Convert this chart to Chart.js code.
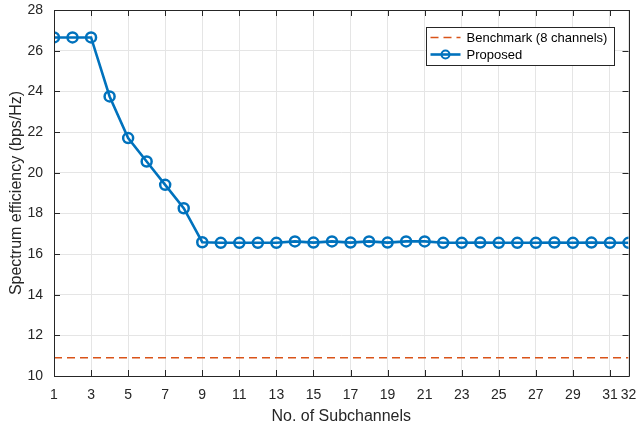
<!DOCTYPE html>
<html>
<head>
<meta charset="utf-8">
<script src="https://cdn.jsdelivr.net/npm/chart.js@4"></script>
<style>
  html, body { margin: 0; padding: 0; background: #fff; }
  #wrap { width: 636px; height: 426px; }
</style>
</head>
<body>
<div id="wrap"><canvas id="chart" width="636" height="426"></canvas></div>
<script>
// Chart data
const subchannels = [1,2,3,4,5,6,7,8,9,10,11,12,13,14,15,16,17,18,19,20,21,22,23,24,25,26,27,28,29,30,31,32];
const proposedValues = [26.65, 26.65, 26.65, 23.75, 21.7, 20.55, 19.4, 18.25, 16.58, 16.55, 16.55, 16.55, 16.55, 16.62, 16.56, 16.62, 16.56, 16.62, 16.56, 16.62, 16.62, 16.55, 16.55, 16.56, 16.55, 16.55, 16.55, 16.56, 16.55, 16.56, 16.55, 16.55];
const benchmarkValue = 10.9;
const xTickValues = [1,3,5,7,9,11,13,15,17,19,21,23,25,27,29,31,32];
const seriesLabels = ['Benchmark (8 channels)', 'Proposed'];

const FONT = '"Liberation Sans", Arial, sans-serif';
const BLUE = '#0072BD';
const ORANGE = '#D95319';

const proposedPoints = subchannels.map(function(x, i) { return { x: x, y: proposedValues[i] }; });
const benchmarkPoints = [{ x: 1, y: benchmarkValue }, { x: 32, y: benchmarkValue }];

/**
 * Draws the box frame with inward ticks, MATLAB style
 */
const framePlugin = {
    id: 'frame',
    afterDatasetsDraw: function(chart) {
        const ctx = chart.ctx;
        const a = chart.chartArea;
        const xs = chart.scales.x;
        const ys = chart.scales.y;
        ctx.save();
        ctx.strokeStyle = '#262626';
        ctx.lineWidth = 1;
        ctx.beginPath();
        ctx.rect(Math.round(a.left) + 0.5, Math.round(a.top) + 0.5, Math.round(a.right - a.left), Math.round(a.bottom - a.top));
        ctx.stroke();
        ctx.beginPath();
        xTickValues.forEach(function(v) {
            const px = Math.round(xs.getPixelForValue(v)) + 0.5;
            ctx.moveTo(px, a.bottom); ctx.lineTo(px, a.bottom - 6);
            ctx.moveTo(px, a.top); ctx.lineTo(px, a.top + 6);
        });
        ys.ticks.forEach(function(t) {
            const py = Math.round(ys.getPixelForValue(t.value)) + 0.5;
            ctx.moveTo(a.left, py); ctx.lineTo(a.left + 6, py);
            ctx.moveTo(a.right, py); ctx.lineTo(a.right - 6, py);
        });
        ctx.stroke();
        ctx.restore();
    }
};

/**
 * Legend box inside the plot, top right
 */
const legendPlugin = {
    id: 'insideLegend',
    afterDraw: function(chart) {
        const ctx = chart.ctx;
        const box = { x: 426.5, y: 27.5, w: 188, h: 38 };
        ctx.save();
        ctx.fillStyle = '#fff';
        ctx.fillRect(box.x, box.y, box.w, box.h);
        ctx.strokeStyle = '#262626';
        ctx.lineWidth = 1;
        ctx.strokeRect(box.x, box.y, box.w, box.h);

        ctx.font = '13px ' + FONT;
        ctx.fillStyle = '#000';
        ctx.textBaseline = 'middle';
        chart.data.datasets.forEach(function(ds, i) {
            const cy = box.y + 10 + i * 17;
            ctx.strokeStyle = ds.borderColor;
            ctx.lineWidth = ds.borderWidth;
            ctx.setLineDash(ds.borderDash || []);
            ctx.beginPath();
            ctx.moveTo(box.x + 4, cy);
            ctx.lineTo(box.x + 34, cy);
            ctx.stroke();
            ctx.setLineDash([]);
            if (ds.pointRadius > 0) {
                ctx.beginPath();
                ctx.arc(box.x + 19, cy, 4, 0, Math.PI * 2);
                ctx.lineWidth = 2;
                ctx.stroke();
            }
            ctx.fillText(ds.label, box.x + 40, cy + 1);
        });
        ctx.restore();
    }
};

function renderChart() {
    const ctx = document.getElementById('chart').getContext('2d');
    new Chart(ctx, {
        type: 'line',
        data: {
            datasets: [{
                label: seriesLabels[0],
                data: benchmarkPoints,
                borderColor: ORANGE,
                borderWidth: 1.5,
                borderDash: [8, 5],
                pointRadius: 0,
                fill: false
            }, {
                label: seriesLabels[1],
                data: proposedPoints,
                borderColor: BLUE,
                borderWidth: 2.6,
                pointRadius: 5,
                pointBorderWidth: 2.5,
                pointBackgroundColor: 'rgba(0,0,0,0)',
                pointBorderColor: BLUE,
                fill: false
            }]
        },
        options: {
            responsive: false,
            animation: false,
            layout: { padding: { top: 10, right: 6, left: 0, bottom: 0 } },
            plugins: {
                legend: { display: false },
                tooltip: { enabled: false }
            },
            scales: {
                x: {
                    type: 'linear',
                    min: 1,
                    max: 32,
                    afterBuildTicks: function(scale) {
                        scale.ticks = xTickValues.map(function(v) { return { value: v }; });
                    },
                    afterFit: function(scale) {
                        scale.height = 50;
                        scale.paddingLeft = 0;
                        scale.paddingRight = 0;
                    },
                    grid: { color: '#e5e5e5', drawTicks: false },
                    border: { display: false },
                    ticks: {
                        autoSkip: false,
                        maxRotation: 0,
                        padding: 11,
                        color: '#262626',
                        font: { family: FONT, size: 14 }
                    },
                    title: {
                        display: true,
                        text: 'No. of Subchannels',
                        color: '#262626',
                        padding: { top: 0, bottom: 0 },
                        font: { family: FONT, size: 16 }
                    }
                },
                y: {
                    min: 10,
                    max: 28,
                    afterFit: function(scale) {
                        scale.width = 54;
                        scale.paddingTop = 0;
                        scale.paddingBottom = 0;
                    },
                    grid: { color: '#e5e5e5', drawTicks: false },
                    border: { display: false },
                    ticks: {
                        stepSize: 2,
                        padding: 11,
                        color: '#262626',
                        font: { family: FONT, size: 14 }
                    },
                    title: {
                        display: true,
                        text: 'Spectrum efficiency (bps/Hz)',
                        color: '#262626',
                        padding: { top: 7, bottom: 0 },
                        font: { family: FONT, size: 16 }
                    }
                }
            }
        },
        plugins: [framePlugin, legendPlugin]
    });
}

renderChart();
</script>
</body>
</html>
